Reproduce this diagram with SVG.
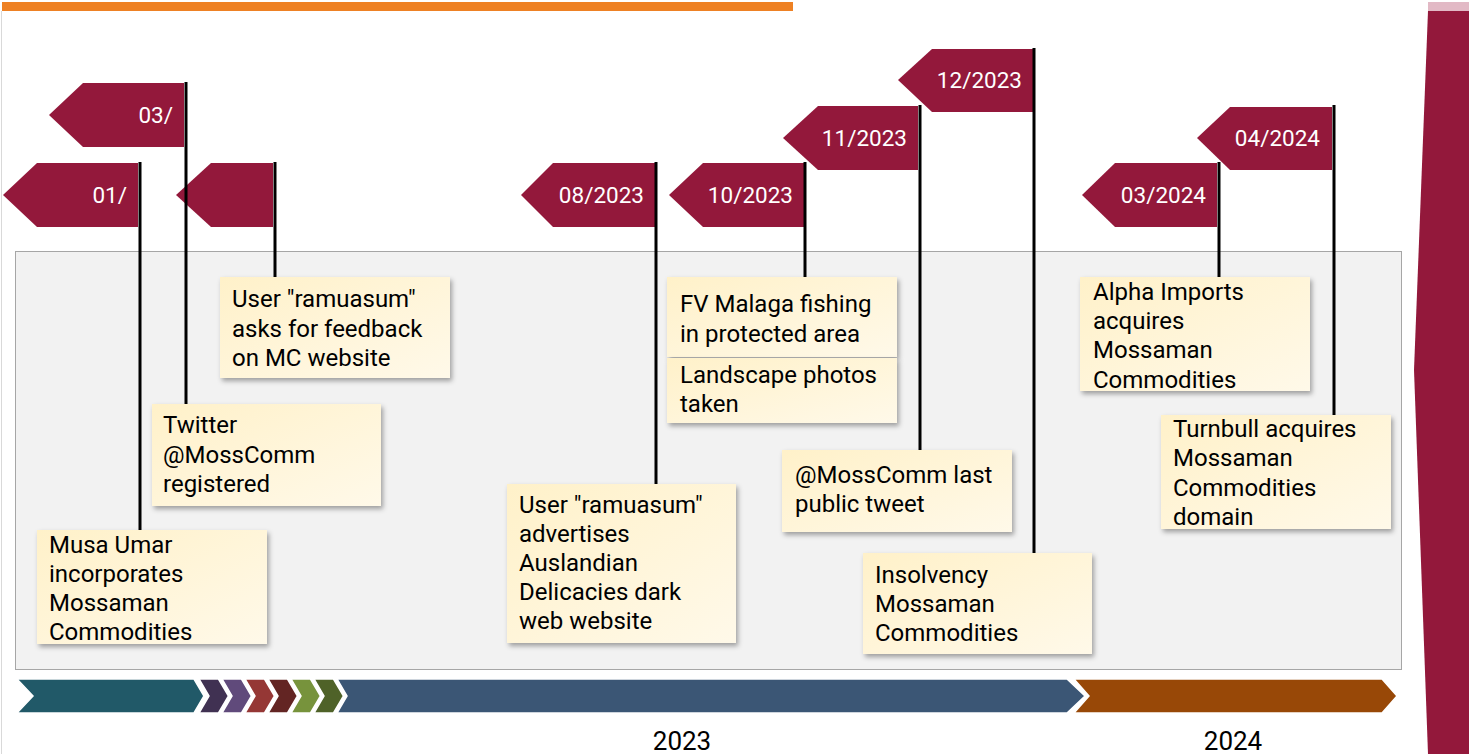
<svg xmlns="http://www.w3.org/2000/svg" width="1469" height="754" viewBox="0 0 1469 754">
<style>
.flag{fill:#93183b}
.ft{font-family:Roboto,"Liberation Sans",sans-serif;font-size:22.5px;fill:#ffffff;text-anchor:end}
.box{fill:url(#note);filter:url(#sh)}
.bt{font-family:Roboto,"Liberation Sans",sans-serif;font-size:24px;fill:#000000}
.pole{stroke:#000000;stroke-width:3;fill:none}
.yr{font-family:Roboto,"Liberation Sans",sans-serif;font-size:26px;fill:#000000;text-anchor:middle}
.chev{stroke:#ffffff;stroke-width:1.5}
</style>
<defs>
<linearGradient id="note" x1="0" y1="0" x2="1" y2="1">
<stop offset="0" stop-color="#fff1c9"/>
<stop offset="1" stop-color="#fff9e9"/>
</linearGradient>
<filter id="sh" x="-10%" y="-10%" width="125%" height="130%">
<feDropShadow dx="2" dy="3" stdDeviation="2.5" flood-color="#000000" flood-opacity="0.35"/>
</filter>
</defs>
<rect x="0" y="0" width="1469" height="754" fill="#ffffff"/>
<rect x="2" y="2" width="791" height="9" fill="#ee8124"/>
<line x1="1.5" y1="11" x2="1.5" y2="754" stroke="#d9d9d9" stroke-width="1"/>
<rect x="1428" y="2" width="41" height="9" fill="#e2b9c5"/>
<polygon points="1428,11 1469,11 1469,754 1428,754 1414,370" fill="#93183b"/>
<rect x="15.5" y="251.5" width="1386" height="418" fill="#f2f2f2" stroke="#a6a6a6" stroke-width="1"/>
<g id="timeline-bar">
<polygon class="chev" fill="#215968" points="17,679 194,679 204,696 194,713 17,713 33,696"/>
<polygon class="chev" fill="#403152" points="199,679 218.5,679 228.5,696 218.5,713 199,713 209,696"/>
<polygon class="chev" fill="#604a7b" points="222,679 241.5,679 251.5,696 241.5,713 222,713 232,696"/>
<polygon class="chev" fill="#953735" points="245,679 264.5,679 274.5,696 264.5,713 245,713 255,696"/>
<polygon class="chev" fill="#632523" points="268,679 287.5,679 297.5,696 287.5,713 268,713 278,696"/>
<polygon class="chev" fill="#77933c" points="291,679 310.5,679 320.5,696 310.5,713 291,713 301,696"/>
<polygon class="chev" fill="#4f6228" points="314,679 333.5,679 343.5,696 333.5,713 314,713 324,696"/>
<polygon class="chev" fill="#3b5675" points="337,679 1067,679 1085,696 1067,713 337,713 347,696"/>
<polygon class="chev" fill="#984807" points="1074,679 1382,679 1397,696 1382,713 1074,713 1089,696"/>
<text class="yr" x="682" y="750">2023</text>
<text class="yr" x="1233" y="750">2024</text>
</g>
<g id="flags">
<g id="flag-01"><polygon class="flag" points="3,195 37,163 138,163 138,227 37,227"/><text class="ft" x="127" y="203">01/</text></g>
<g id="flag-03"><polygon class="flag" points="49,115 83,83 184,83 184,147 83,147"/><text class="ft" x="173" y="123">03/</text></g>
<g id="flag-blank"><polygon class="flag" points="176,195 211,163 273,163 273,227 211,227"/></g>
<g id="flag-0823"><polygon class="flag" points="521,195 553,163 655,163 655,227 553,227"/><text class="ft" x="644" y="203">08/2023</text></g>
<g id="flag-1023"><polygon class="flag" points="669,195 703,163 804,163 804,227 703,227"/><text class="ft" x="793" y="203">10/2023</text></g>
<g id="flag-1123"><polygon class="flag" points="783,138 818,106 918,106 918,170 818,170"/><text class="ft" x="907" y="146">11/2023</text></g>
<g id="flag-1223"><polygon class="flag" points="898,80 932,49 1033,49 1033,112 932,112"/><text class="ft" x="1022" y="88">12/2023</text></g>
<g id="flag-0324"><polygon class="flag" points="1082,195 1115,163 1217,163 1217,227 1115,227"/><text class="ft" x="1206" y="203">03/2024</text></g>
<g id="flag-0424"><polygon class="flag" points="1197,138 1230,107 1332,107 1332,170 1230,170"/><text class="ft" x="1320" y="146">04/2024</text></g>
</g>
<g id="connectors">
<line class="pole" x1="140" y1="162" x2="140" y2="530"/>
<line class="pole" x1="186" y1="82" x2="186" y2="404"/>
<line class="pole" x1="275" y1="162" x2="275" y2="277"/>
<line class="pole" x1="656" y1="162" x2="656" y2="484"/>
<line class="pole" x1="805" y1="162" x2="805" y2="277"/>
<line class="pole" x1="920" y1="105" x2="920" y2="450"/>
<line class="pole" x1="1034" y1="48" x2="1034" y2="553"/>
<line class="pole" x1="1219" y1="162" x2="1219" y2="277"/>
<line class="pole" x1="1334" y1="105" x2="1334" y2="415"/>
</g>
<g id="box-musa"><rect class="box" x="37" y="530" width="230" height="114"/>
<text class="bt" x="49" y="553">Musa Umar</text><text class="bt" x="49" y="582">incorporates</text><text class="bt" x="49" y="611">Mossaman</text><text class="bt" x="49" y="640">Commodities</text></g>
<g id="box-twitter"><rect class="box" x="152" y="404" width="229" height="102"/>
<text class="bt" x="163" y="433">Twitter</text><text class="bt" x="163" y="463">@MossComm</text><text class="bt" x="163" y="492">registered</text></g>
<g id="box-feedback"><rect class="box" x="220" y="277" width="230" height="101"/>
<text class="bt" x="232" y="307">User "ramuasum"</text><text class="bt" x="232" y="337">asks for feedback</text><text class="bt" x="232" y="366">on MC website</text></g>
<g id="box-advertises"><rect class="box" x="507" y="484" width="229" height="159"/>
<text class="bt" x="519" y="513">User "ramuasum"</text><text class="bt" x="519" y="542">advertises</text><text class="bt" x="519" y="571">Auslandian</text><text class="bt" x="519" y="600">Delicacies dark</text><text class="bt" x="519" y="629">web website</text></g>
<g id="box-malaga"><rect class="box" x="667" y="277" width="230" height="80"/>
<text class="bt" x="680" y="312">FV Malaga fishing</text><text class="bt" x="680" y="342">in protected area</text></g>
<g id="box-landscape"><rect class="box" x="667" y="358" width="230" height="65"/>
<text class="bt" x="680" y="383">Landscape photos</text><text class="bt" x="680" y="412">taken</text></g>
<g id="box-lasttweet"><rect class="box" x="782" y="450" width="230" height="82"/>
<text class="bt" x="795" y="483">@MossComm last</text><text class="bt" x="795" y="512">public tweet</text></g>
<g id="box-insolvency"><rect class="box" x="863" y="553" width="229" height="101"/>
<text class="bt" x="875" y="583">Insolvency</text><text class="bt" x="875" y="612">Mossaman</text><text class="bt" x="875" y="641">Commodities</text></g>
<g id="box-alpha"><rect class="box" x="1080" y="277" width="230" height="114"/>
<text class="bt" x="1093" y="300">Alpha Imports</text><text class="bt" x="1093" y="329">acquires</text><text class="bt" x="1093" y="358">Mossaman</text><text class="bt" x="1093" y="388">Commodities</text></g>
<g id="box-turnbull"><rect class="box" x="1161" y="415" width="230" height="114"/>
<text class="bt" x="1173" y="437">Turnbull acquires</text><text class="bt" x="1173" y="466">Mossaman</text><text class="bt" x="1173" y="496">Commodities</text><text class="bt" x="1173" y="525">domain</text></g>
</svg>
